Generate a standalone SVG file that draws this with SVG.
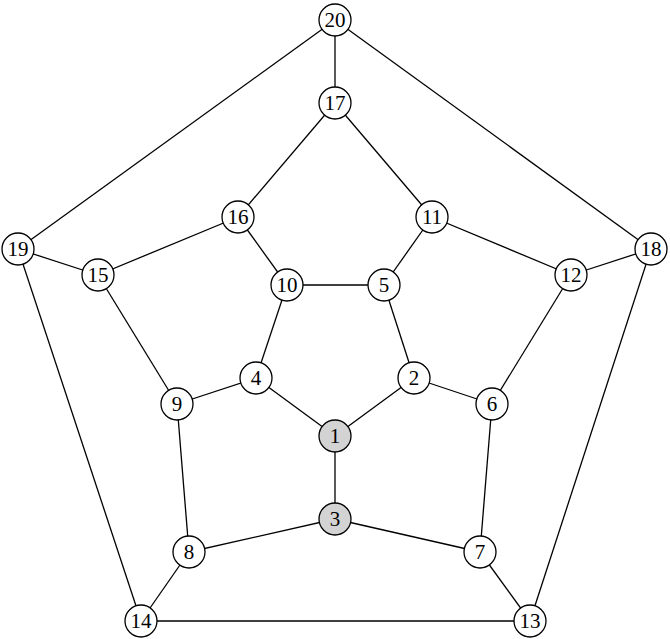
<svg xmlns="http://www.w3.org/2000/svg" width="670" height="639" viewBox="0 0 670 639">
<style>
.n circle{fill:#fff;stroke:#000;stroke-width:1.3}
.g circle{fill:#d3d3d3}
.n text{font-family:"Liberation Serif",serif;font-size:21px;text-anchor:middle;dominant-baseline:central}
#edges line{stroke:#000;stroke-width:1.3}
</style>
<rect width="670" height="639" fill="#fff"/>
<g id="edges">
<line x1="335" y1="20" x2="335" y2="103"/>
<line x1="335" y1="20" x2="18" y2="249"/>
<line x1="335" y1="20" x2="651" y2="249"/>
<line x1="335" y1="103" x2="238" y2="217"/>
<line x1="335" y1="103" x2="432" y2="217"/>
<line x1="238" y1="217" x2="98" y2="275"/>
<line x1="238" y1="217" x2="287" y2="285"/>
<line x1="432" y1="217" x2="384" y2="285"/>
<line x1="432" y1="217" x2="571" y2="275"/>
<line x1="18" y1="249" x2="98" y2="275"/>
<line x1="18" y1="249" x2="141" y2="621"/>
<line x1="651" y1="249" x2="571" y2="275"/>
<line x1="651" y1="249" x2="530" y2="621"/>
<line x1="287" y1="285" x2="384" y2="285"/>
<line x1="287" y1="285" x2="256" y2="378"/>
<line x1="384" y1="285" x2="414" y2="378"/>
<line x1="98" y1="275" x2="177" y2="404"/>
<line x1="571" y1="275" x2="492" y2="404"/>
<line x1="256" y1="378" x2="335" y2="436"/>
<line x1="256" y1="378" x2="177" y2="404"/>
<line x1="414" y1="378" x2="335" y2="436"/>
<line x1="414" y1="378" x2="492" y2="404"/>
<line x1="177" y1="404" x2="189" y2="552"/>
<line x1="492" y1="404" x2="480" y2="552"/>
<line x1="335" y1="436" x2="335" y2="519"/>
<line x1="335" y1="519" x2="189" y2="552"/>
<line x1="335" y1="519" x2="480" y2="552"/>
<line x1="189" y1="552" x2="141" y2="621"/>
<line x1="480" y1="552" x2="530" y2="621"/>
<line x1="141" y1="621" x2="530" y2="621"/>
</g>
<g id="n20" class="n"><circle cx="335" cy="20" r="16"/><text x="335" y="20">20</text></g>
<g id="n17" class="n"><circle cx="335" cy="103" r="16"/><text x="335" y="103">17</text></g>
<g id="n16" class="n"><circle cx="238" cy="217" r="16"/><text x="238" y="217">16</text></g>
<g id="n11" class="n"><circle cx="432" cy="217" r="16"/><text x="432" y="217">11</text></g>
<g id="n19" class="n"><circle cx="18" cy="249" r="16"/><text x="18" y="249">19</text></g>
<g id="n18" class="n"><circle cx="651" cy="249" r="16"/><text x="651" y="249">18</text></g>
<g id="n15" class="n"><circle cx="98" cy="275" r="16"/><text x="98" y="275">15</text></g>
<g id="n12" class="n"><circle cx="571" cy="275" r="16"/><text x="571" y="275">12</text></g>
<g id="n10" class="n"><circle cx="287" cy="285" r="16"/><text x="287" y="285">10</text></g>
<g id="n5" class="n"><circle cx="384" cy="285" r="16"/><text x="384" y="285">5</text></g>
<g id="n4" class="n"><circle cx="256" cy="378" r="16"/><text x="256" y="378">4</text></g>
<g id="n2" class="n"><circle cx="414" cy="378" r="16"/><text x="414" y="378">2</text></g>
<g id="n9" class="n"><circle cx="177" cy="404" r="16"/><text x="177" y="404">9</text></g>
<g id="n6" class="n"><circle cx="492" cy="404" r="16"/><text x="492" y="404">6</text></g>
<g id="n1" class="n g"><circle cx="335" cy="436" r="16"/><text x="335" y="436">1</text></g>
<g id="n3" class="n g"><circle cx="335" cy="519" r="16"/><text x="335" y="519">3</text></g>
<g id="n8" class="n"><circle cx="189" cy="552" r="16"/><text x="189" y="552">8</text></g>
<g id="n7" class="n"><circle cx="480" cy="552" r="16"/><text x="480" y="552">7</text></g>
<g id="n14" class="n"><circle cx="141" cy="621" r="16"/><text x="141" y="621">14</text></g>
<g id="n13" class="n"><circle cx="530" cy="621" r="16"/><text x="530" y="621">13</text></g>
</svg>
